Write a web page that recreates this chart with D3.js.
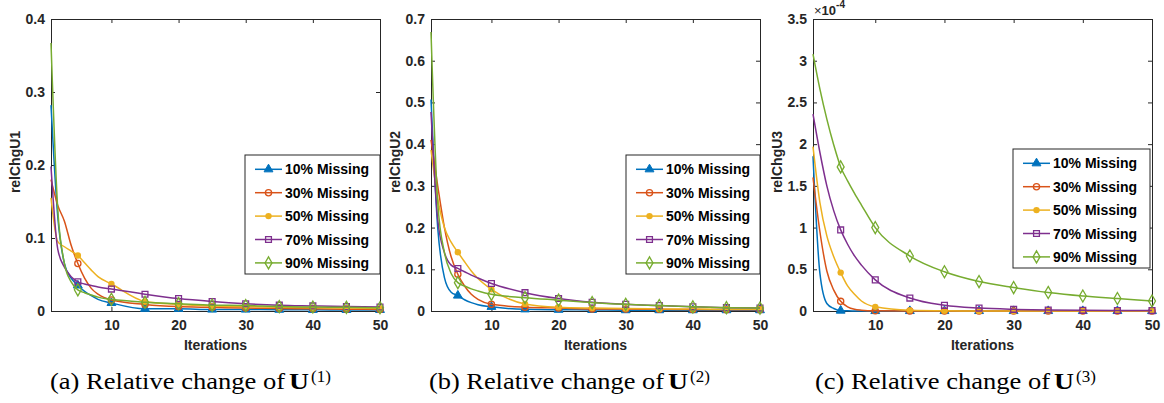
<!DOCTYPE html>
<html>
<head>
<meta charset="utf-8">
<script src="https://cdn.jsdelivr.net/npm/d3@7"></script>
<style>
body{margin:0;background:#fff;}
</style>
</head>
<body>
<script>
var iters = [1,2,3,4,5,6,7,8,10,15,20,25,30,35,40,45,50];

var seriesNames = ["10% Missing","30% Missing","50% Missing","70% Missing","90% Missing"];
var colors = ["#0072BD","#D95319","#EDB120","#7E2F8E","#77AC30"];
var markerTypes = ["triangle","circle","dot","square","diamond"];

//relChgU1
var u1_10 = [0.282,0.13,0.065,0.045,0.035,0.027,0.021,0.016,0.011,0.003,0.003,0.002,0.002,0.0018,0.0016,0.0015,0.0015];
var u1_30 = [0.18,0.145,0.123,0.09,0.065,0.045,0.031,0.023,0.015,0.009,0.006,0.005,0.004,0.0035,0.003,0.0025,0.002];
var u1_50 = [0.155,0.095,0.088,0.082,0.076,0.066,0.056,0.047,0.037,0.013,0.009,0.007,0.006,0.005,0.0045,0.004,0.0035];
var u1_70 = [0.198,0.085,0.06,0.047,0.04,0.037,0.035,0.033,0.03,0.023,0.017,0.013,0.01,0.008,0.007,0.006,0.0055];
var u1_90 = [0.367,0.14,0.065,0.04,0.029,0.025,0.022,0.019,0.016,0.012,0.01,0.008,0.0075,0.006,0.0055,0.005,0.0045];

//relChgU2
var u2_10 = [0.507,0.2,0.08,0.045,0.037,0.027,0.02,0.015,0.01,0.004,0.003,0.0025,0.002,0.002,0.002,0.002,0.002];
var u2_30 = [0.41,0.3,0.2,0.13,0.088,0.06,0.04,0.028,0.016,0.009,0.007,0.005,0.0045,0.004,0.0035,0.003,0.003];
var u2_50 = [0.386,0.27,0.2,0.165,0.141,0.118,0.096,0.078,0.052,0.017,0.009,0.007,0.006,0.005,0.0045,0.004,0.004];
var u2_70 = [0.477,0.22,0.14,0.11,0.102,0.094,0.086,0.079,0.066,0.044,0.03,0.021,0.016,0.013,0.01,0.008,0.007];
var u2_90 = [0.669,0.26,0.14,0.09,0.068,0.06,0.053,0.048,0.04,0.032,0.026,0.02,0.016,0.013,0.01,0.008,0.007];

//relChgU3 (x 1e-4)
var u3_10 = [1.855,0.45,0.09,0.03,0.005,0.002,0.001,0,0,0,0,0,0,0,0,0,0];
var u3_30 = [1.6,0.95,0.48,0.25,0.116,0.05,0.02,0.01,0.003,0,0,0,0,0,0,0,0];
var u3_50 = [1.97,1.3,0.9,0.65,0.46,0.3,0.2,0.12,0.05,0.008,0.002,0.001,0,0,0,0,0];
var u3_70 = [2.36,1.9,1.5,1.2,0.972,0.8,0.66,0.55,0.373,0.155,0.068,0.035,0.02,0.012,0.008,0.006,0.005];
var u3_90 = [3.08,2.66,2.3,1.99,1.727,1.56,1.41,1.27,1.0,0.659,0.47,0.353,0.281,0.222,0.18,0.15,0.12];

var yTicks1 = [0,0.1,0.2,0.3,0.4];
var yTicks2 = [0,0.1,0.2,0.3,0.4,0.5,0.6,0.7];
var yTicks3 = [0,0.5,1,1.5,2,2.5,3,3.5];
var xTicks = [10,20,30,40,50];

var panels = [
    {ylabel:"relChgU1", ticks:yTicks1, data:[u1_10,u1_30,u1_50,u1_70,u1_90], left:51, right:380, lx:245, ly:155, lw:135, cap:"a", capX:50},
    {ylabel:"relChgU2", ticks:yTicks2, data:[u2_10,u2_30,u2_50,u2_70,u2_90], left:431, right:760, lx:626, ly:155, lw:134, cap:"b", capX:429},
    {ylabel:"relChgU3", ticks:yTicks3, data:[u3_10,u3_30,u3_50,u3_70,u3_90], left:813, right:1152, lx:1013, ly:149, lw:137, cap:"c", capX:815, exp:true}
];

var width = 1164, height = 403, plotTop = 19, plotBottom = 311;
var ink = "#262626";
var sans = "'Liberation Sans', Arial, sans-serif";
var serif = "'Liberation Serif', 'Times New Roman', serif";

var svg = d3.select("body")
    .append("svg")
    .attr("width", width)
    .attr("height", height)
    .attr("font-family", sans);

function drawMarker(g, type, color){
    if (type == "dot"){
        g.append("circle").attr("r", 3.2).attr("fill", color);
    } else if (type == "triangle"){
        g.append("path").attr("d", d3.symbol(d3.symbolTriangle, 34)())
            .attr("fill", color).attr("stroke", color).attr("stroke-width", 1);
    } else {
        var sym = {circle:d3.symbolCircle, square:d3.symbolSquare, diamond:d3.symbolDiamond}[type];
        var size = {circle:30, square:34, diamond:42}[type];
        g.append("path").attr("d", d3.symbol(sym, size)())
            .attr("fill", "none").attr("stroke", color).attr("stroke-width", 1.3);
    }
}

panels.forEach(function(p, pi){

    var x = d3.scaleLinear().domain([1, 50]).range([p.left, p.right]);
    var y = d3.scaleLinear().domain([0, p.ticks[p.ticks.length-1]]).range([plotBottom, plotTop]);

    var g = svg.append("g");

    //box axes with inward ticks
    g.append("g").attr("transform", "translate(0," + plotBottom + ")")
        .call(d3.axisBottom(x).tickValues(xTicks).tickSizeInner(-4).tickSizeOuter(0).tickPadding(9));
    g.append("g").attr("transform", "translate(0," + plotTop + ")")
        .call(d3.axisTop(x).tickValues(xTicks).tickSizeInner(-4).tickSizeOuter(0).tickFormat(""));
    g.append("g").attr("transform", "translate(" + p.left + ",0)")
        .call(d3.axisLeft(y).tickValues(p.ticks).tickSizeInner(-4).tickSizeOuter(0).tickPadding(6)
            .tickFormat(function(d){ return String(d); }));
    g.append("g").attr("transform", "translate(" + p.right + ",0)")
        .call(d3.axisRight(y).tickValues(p.ticks).tickSizeInner(-4).tickSizeOuter(0).tickFormat(""));

    g.selectAll(".domain, .tick line").attr("stroke", ink).attr("stroke-width", 1);
    g.selectAll(".tick text").attr("fill", ink).attr("font-size", 14).attr("font-weight", "bold")
        .attr("font-family", sans);

    //axis titles
    g.append("text")
        .attr("transform", "translate(" + (p.left - 31) + "," + ((plotTop + plotBottom) / 2 - 3) + ") rotate(-90)")
        .attr("text-anchor", "middle").attr("font-size", 14).attr("font-weight", "bold").attr("fill", ink)
        .text(p.ylabel);
    g.append("text")
        .attr("x", (p.left + p.right) / 2).attr("y", 350)
        .attr("text-anchor", "middle").attr("font-size", 14).attr("font-weight", "bold").attr("fill", ink)
        .text("Iterations");

    if (p.exp){
        var e = g.append("text").attr("x", p.left + 1).attr("y", 15).attr("fill", ink).attr("font-size", 13);
        e.append("tspan").text("\u00d7");
        e.append("tspan").attr("font-weight", "bold").text("10");
        e.append("tspan").attr("font-weight", "bold").attr("font-size", 10).attr("dy", -7).text("-4");
    }

    //series
    var line = d3.line()
        .x(function(d){ return x(d[0]); })
        .y(function(d){ return y(d[1]); })
        .curve(d3.curveMonotoneX);

    p.data.forEach(function(vals, i){
        var pts = iters.map(function(it, j){ return [it, vals[j]]; });
        g.append("path").datum(pts)
            .attr("d", line)
            .attr("fill", "none")
            .attr("stroke", colors[i])
            .attr("stroke-width", 1.5);

        var marks = g.selectAll(".m" + i)
            .data(pts.filter(function(d){ return d[0] % 5 == 0; }))
            .enter()
            .append("g")
            .attr("class", "m" + i)
            .attr("transform", function(d){ return "translate(" + x(d[0]) + "," + y(d[1]) + ")"; });
        marks.each(function(){ drawMarker(d3.select(this), markerTypes[i], colors[i]); });
    });

    //legend
    var lg = g.append("g").attr("transform", "translate(" + p.lx + "," + p.ly + ")");
    lg.append("rect").attr("width", p.lw).attr("height", 119)
        .attr("fill", "#fff").attr("stroke", ink).attr("stroke-width", 1);
    seriesNames.forEach(function(name, i){
        var row = lg.append("g").attr("transform", "translate(0," + (14.3 + i * 23.4) + ")");
        row.append("line").attr("x1", 10).attr("x2", 37)
            .attr("stroke", colors[i]).attr("stroke-width", 1.5);
        var mk = row.append("g").attr("transform", "translate(23.5,0)");
        drawMarker(mk, markerTypes[i], colors[i]);
        row.append("text").attr("x", 40).attr("y", 5)
            .attr("font-size", 14).attr("font-weight", "bold").attr("fill", "#000")
            .text(name);
    });

    //sub-figure caption
    var c = svg.append("g").attr("font-family", serif).attr("fill", "#000");
    c.append("text").attr("x", p.capX).attr("y", 388.5).attr("font-size", 24)
        .attr("textLength", 235).attr("lengthAdjust", "spacingAndGlyphs")
        .text("(" + p.cap + ") Relative change of");
    c.append("text").attr("x", p.capX + 239).attr("y", 388.5).attr("font-size", 24)
        .attr("font-weight", "bold")
        .attr("textLength", 20).attr("lengthAdjust", "spacingAndGlyphs")
        .text("U");
    c.append("text").attr("x", p.capX + 261).attr("y", 382).attr("font-size", 17)
        .text("(" + (pi + 1) + ")");
});
</script>
</body>
</html>
